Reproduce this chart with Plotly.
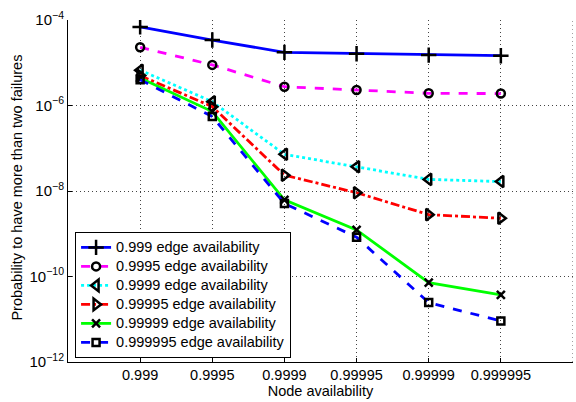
import plotly.graph_objects as go

node_labels = ["0.999", "0.9995", "0.9999", "0.99995", "0.99999", "0.999995"]
x_pos = [1, 2, 3, 4, 5, 6]

s_0999 = [6.9e-5, 3.4e-5, 1.75e-5, 1.63e-5, 1.51e-5, 1.46e-5]
s_09995 = [2.3e-5, 8.9e-6, 2.75e-6, 2.3e-6, 1.93e-6, 1.9e-6]
s_09999 = [6.7e-6, 1.23e-6, 7.2e-8, 3.7e-8, 1.87e-8, 1.66e-8]
s_099995 = [5.0e-6, 9.4e-7, 2.35e-8, 9.1e-9, 2.8e-9, 2.3e-9]
s_099999 = [4.4e-6, 7.2e-7, 6.2e-9, 1.23e-9, 7.2e-11, 3.7e-11]
s_0999995 = [4.0e-6, 5.5e-7, 5.1e-9, 8.3e-10, 2.45e-11, 9.1e-12]

names = ["0.999 edge availability", "0.9995 edge availability", "0.9999 edge availability",
         "0.99995 edge availability", "0.99999 edge availability", "0.999995 edge availability"]
series = [s_0999, s_09995, s_09999, s_099995, s_099999, s_0999995]
colors = ["#0000ff", "#ff00ff", "#00ffff", "#ff0000", "#00ff00", "#0000ff"]
dashes = ["solid", "dash", "dot", "dashdot", "solid", "dash"]
symbols = ["cross-thin-open", "circle-open", "triangle-left-open", "triangle-right-open",
           "x-thin-open", "square-open"]
msizes = [11, 8, 10, 10, 8, 7]

FS = 14.5

fig = go.Figure()
for n, s, c, d, sym, ms in zip(names, series, colors, dashes, symbols, msizes):
    fig.add_trace(go.Scatter(
        x=x_pos, y=s, name=f'<span style="font-size:{FS}px">{n}</span>',
        mode="lines+markers",
        line=dict(color=c, width=2.8, dash=d),
        marker=dict(symbol=sym, size=ms, color="black",
                    line=dict(color="black", width=2.5)),
    ))

fig.update_layout(
    width=576, height=402,
    margin=dict(l=68, r=3, t=20, b=40),
    paper_bgcolor="white", plot_bgcolor="white",
    font=dict(family="Liberation Sans, Arial, sans-serif", size=FS, color="black"),
    legend=dict(x=0.014, y=0.012, xanchor="left", yanchor="bottom",
                bgcolor="white", bordercolor="black", borderwidth=1,
                font=dict(size=11), tracegroupgap=0, itemwidth=30),
    showlegend=True,
)
fig.update_xaxes(
    range=[0, 7], tickmode="array", tickvals=x_pos, ticktext=node_labels,
    title=dict(text="Node availability", standoff=2, font=dict(size=FS)),
    showline=True, linecolor="black", linewidth=1, mirror=False,
    ticks="inside", ticklen=4, tickcolor="black",
    showgrid=True, gridcolor="#444444", griddash="1px,3px", gridwidth=1,
    zeroline=False, tickfont=dict(size=FS), automargin=False,
)
fig.update_yaxes(
    type="log", range=[-12, -4], tickmode="array",
    tickvals=[1e-12, 1e-10, 1e-8, 1e-6, 1e-4],
    ticktext=["10<sup>−12</sup>", "10<sup>−10</sup>", "10<sup>−8</sup>", "10<sup>−6</sup>", "10<sup>−4</sup>"],
    showline=True, linecolor="black", linewidth=1,
    ticks="inside", ticklen=4, tickcolor="black",
    showgrid=True, gridcolor="#444444", griddash="1px,3px", gridwidth=1,
    zeroline=False, tickfont=dict(size=15), automargin=False,
)
fig.add_annotation(
    text="Probability to have more than two failures", textangle=-90,
    xref="paper", yref="paper", x=-0.101, y=0.51, xanchor="center", yanchor="middle",
    showarrow=False, font=dict(size=FS),
)
# grid line at right edge
fig.add_shape(type="line", xref="x", yref="paper", x0=7, x1=7, y0=0, y1=1,
              line=dict(color="#444444", width=1, dash="1px,3px"))

fig.write_html("out.html")
